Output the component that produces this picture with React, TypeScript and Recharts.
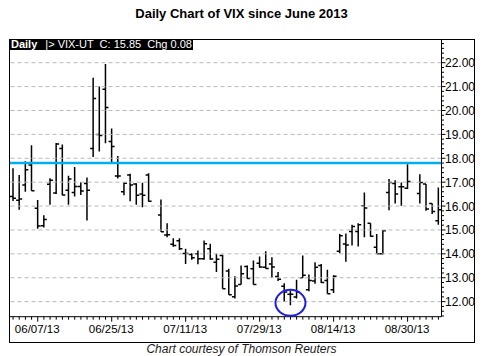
import { ComposedChart, Bar, XAxis, YAxis, ReferenceLine, ReferenceDot } from 'recharts';

// trading-day slots, holidays kept as empty slots (07/04, 09/02)
const DATES = [
  '06/03/13', '06/04/13', '06/05/13', '06/06/13', '06/07/13',
  '06/10/13', '06/11/13', '06/12/13', '06/13/13', '06/14/13',
  '06/17/13', '06/18/13', '06/19/13', '06/20/13', '06/21/13',
  '06/24/13', '06/25/13', '06/26/13', '06/27/13', '06/28/13',
  '07/01/13', '07/02/13', '07/03/13', '07/04/13', '07/05/13',
  '07/08/13', '07/09/13', '07/10/13', '07/11/13', '07/12/13',
  '07/15/13', '07/16/13', '07/17/13', '07/18/13', '07/19/13',
  '07/22/13', '07/23/13', '07/24/13', '07/25/13', '07/26/13',
  '07/29/13', '07/30/13', '07/31/13', '08/01/13', '08/02/13',
  '08/05/13', '08/06/13', '08/07/13', '08/08/13', '08/09/13',
  '08/12/13', '08/13/13', '08/14/13', '08/15/13', '08/16/13',
  '08/19/13', '08/20/13', '08/21/13', '08/22/13', '08/23/13',
  '08/26/13', '08/27/13', '08/28/13', '08/29/13', '08/30/13',
  '09/02/13', '09/03/13', '09/04/13', '09/05/13', '09/06/13',
];

const OPEN = [
  16.40, 16.24, 16.88, 17.72, 15.91,
  15.18, 16.91, 16.55, 18.41, 16.66,
  16.57, 16.82, 16.94, 18.41, 19.00,
  20.89, 18.70, 17.26, 16.60, 17.30,
  16.92, 16.50, 17.30, null, 15.63,
  14.79, 14.40, 14.55, 14.02, 13.97,
  14.00, 13.79, 14.21, 13.65, 13.93,
  13.28, 12.20, 12.72, 13.47, 13.38,
  13.61, 13.44, 13.58, 13.05, 12.64,
  12.31, 12.19, 13.00, 12.50, 12.86,
  13.51, 12.89, 12.50, 14.11, 14.41,
  14.94, 14.94, 16.01, 15.28, 14.28,
  14.00, 16.57, 16.94, 16.81, 16.75,
  null, 16.53, 16.92, 16.11, 15.39,
];

const HIGH = [
  17.58, 17.30, 17.88, 18.55, 16.25,
  15.62, 17.16, 18.64, 18.58, 17.27,
  17.63, 17.00, 17.20, 21.37, 21.00,
  21.95, 19.25, 18.10, 17.00, 17.35,
  16.95, 16.98, 17.37, null, 16.28,
  15.28, 14.65, 14.65, 14.21, 14.03,
  14.14, 14.56, 14.42, 14.00, 13.96,
  13.38, 13.06, 13.51, 13.51, 13.72,
  13.89, 14.11, 13.86, 13.24, 12.77,
  12.47, 12.92, 13.93, 13.14, 13.65,
  13.58, 13.33, 13.10, 14.83, 14.85,
  15.22, 15.28, 16.57, 15.28, 14.83,
  15.00, 17.13, 17.08, 16.99, 17.75,
  null, 17.33, 16.92, 16.11, 16.78,
];

const LOW = [
  16.21, 15.85, 16.60, 16.64, 15.05,
  15.10, 16.05, 16.50, 16.45, 16.05,
  16.40, 16.46, 15.40, 18.05, 18.28,
  18.63, 17.84, 17.15, 16.45, 16.20,
  16.05, 15.95, 16.18, null, 14.92,
  14.69, 14.30, 14.16, 13.58, 13.75,
  13.56, 13.75, 13.75, 13.24, 12.54,
  12.29, 12.13, 12.72, 12.96, 12.72,
  13.42, 13.38, 13.00, 12.86, 11.99,
  11.85, 12.13, 13.00, 12.44, 12.75,
  12.78, 12.33, 12.36, 14.03, 13.67,
  14.35, 14.31, 14.69, 14.72, 14.00,
  13.97, 15.83, 16.11, 16.01, 16.71,
  null, 16.11, 15.80, 15.67, 15.22,
];

const CLOSE = [
  16.33, 16.30, 17.52, 16.64, 15.17,
  15.44, 17.08, 18.60, 16.46, 17.13,
  16.82, 16.63, 16.66, 20.50, 18.95,
  20.13, 18.49, 17.26, 16.95, 16.88,
  16.45, 16.45, 16.20, null, 14.93,
  14.80, 14.35, 14.21, 14.01, 13.84,
  13.79, 14.42, 13.78, 13.77, 12.54,
  12.29, 12.66, 13.17, 12.97, 12.72,
  13.45, 13.39, 13.45, 12.94, 12.40,
  12.31, 12.40, 13.10, 12.89, 13.44,
  12.80, 12.33, 13.06, 14.76, 14.37,
  15.14, 15.22, 15.92, 14.74, 14.00,
  14.97, 16.99, 16.50, 16.81, 17.03,
  null, 16.99, 15.88, 15.77, 15.85,
];

const X_LABELS = ['06/07/13', '06/25/13', '07/11/13', '07/29/13', '08/14/13', '08/30/13'];
const Y_MAJOR = [12, 13, 14, 15, 16, 17, 18, 19, 20, 21, 22];
const RESISTANCE = 17.8;
const CIRCLED_DATE = '08/05/13';
const CIRCLED_VALUE = 11.95;

const W = 483;
const H = 356;

// minor price ticks every 0.2
const Y_TICKS: number[] = [];
for (let i = 114; i <= 228; i += 2) Y_TICKS.push(i / 10);

const data = DATES.map((date, i) => ({
  date,
  open: OPEN[i],
  high: HIGH[i],
  low: LOW[i],
  close: CLOSE[i],
  range: HIGH[i] == null ? null : [LOW[i], HIGH[i]],
}));

function OhlcBar(props: any) {
  const { x = 0, y = 0, width = 0, height = 0, payload } = props;
  if (!payload || payload.high == null) return null;
  const top = Math.min(y, y + height);
  const span = Math.abs(height);
  const cx = x + width / 2;
  const ppu = span / (payload.high - payload.low);
  const yOpen = top + (payload.high - payload.open) * ppu;
  const yClose = top + (payload.high - payload.close) * ppu;
  return (
    <g stroke="#000" strokeWidth={1.5}>
      <line x1={cx} x2={cx} y1={top} y2={top + span} />
      <line x1={cx - 3} x2={cx} y1={yOpen} y2={yOpen} />
      <line x1={cx} x2={cx + 3} y1={yClose} y2={yClose} />
    </g>
  );
}

function DateTick(props: any) {
  const { x, y, payload } = props;
  const labelled = X_LABELS.includes(payload.value);
  return (
    <g>
      <line x1={x} x2={x} y1={y} y2={y + (labelled ? 5 : 3)} stroke="#000" />
      {labelled && (
        <text x={x - 0.5} y={y + 16.5} textAnchor="middle" fontSize={11.5} fill="#000"
          fontFamily="'Liberation Sans', Arial, sans-serif">
          {payload.value}
        </text>
      )}
    </g>
  );
}

function PriceTick(props: any) {
  const { x, y, payload } = props;
  const major = Y_MAJOR.includes(payload.value);
  return (
    <g>
      <line x1={x} x2={x + (major ? 4 : 2.5)} y1={y} y2={y} stroke="#000" />
      {major && (
        <text x={x + 3.5} y={y + 4.5} fontSize={12} fill="#000"
          fontFamily="'Liberation Sans', Arial, sans-serif">
          {payload.value.toFixed(2)}
        </text>
      )}
    </g>
  );
}

function Ring(props: any) {
  const { cx, cy } = props;
  return <ellipse cx={cx} cy={cy} rx={15} ry={13} fill="none" stroke="#2020dc" strokeWidth={2} />;
}

export default function App() {
  return (
    <div style={{ position: 'relative', width: W, height: H, background: '#fff', fontFamily: "'Liberation Sans', Arial, sans-serif" }}>
      <style>{'body{margin:0}'}</style>
      <div style={{ position: 'absolute', top: 6, left: 0, width: W, textAlign: 'center', fontSize: 13, lineHeight: '15px', fontWeight: 700, color: '#000' }}>
        Daily Chart of VIX since June 2013
      </div>

      <div style={{ position: 'absolute', left: 0, top: 0, width: 474, height: 342, overflow: 'hidden' }}>
        <ComposedChart
          width={W}
          height={H}
          data={data}
          margin={{ top: 40, right: 7.5, left: 10, bottom: 9.3 }}
        >
          <XAxis
            dataKey="date"
            interval={0}
            height={30}
            tickSize={0}
            tickMargin={0}
            tickLine={false}
            axisLine={{ stroke: '#000' }}
            tick={<DateTick />}
          />
          <YAxis
            orientation="right"
            type="number"
            domain={[11.37, 22.95]}
            ticks={Y_TICKS}
            interval={0}
            allowDataOverflow
            width={34}
            tickSize={0}
            tickMargin={0}
            tickLine={false}
            axisLine={{ stroke: '#000' }}
            tick={<PriceTick />}
          />
          {Y_MAJOR.map(v => (
            <ReferenceLine key={v} y={v} stroke="#b9b9b9" strokeDasharray="4 3" />
          ))}
          <ReferenceLine y={RESISTANCE} stroke="#00aeef" strokeWidth={2.5} />
          <Bar dataKey="range" barSize={6} shape={<OhlcBar />} isAnimationActive={false} />
          <ReferenceDot x={CIRCLED_DATE} y={CIRCLED_VALUE} shape={<Ring />} />
        </ComposedChart>
      </div>

      <div style={{ position: 'absolute', left: 9, top: 39, width: 466, height: 304, border: '1px solid #000', boxSizing: 'border-box', pointerEvents: 'none' }} />
      <div style={{ position: 'absolute', left: 9, top: 39, width: 184, height: 11, background: '#000', color: '#fff', fontSize: 11, lineHeight: '11px', whiteSpace: 'pre', paddingLeft: 2, boxSizing: 'border-box', overflow: 'hidden' }}>
        <span style={{ fontWeight: 700 }}>Daily</span>
        <span style={{ marginLeft: 8 }}>{'|> VIX-UT  C: 15.85  Chg 0.08'}</span>
      </div>

      <div style={{ position: 'absolute', top: 342, left: 0, width: W, textAlign: 'center', fontSize: 12, lineHeight: '14px', fontStyle: 'italic', color: '#1a1a1a' }}>
        Chart courtesy of Thomson Reuters
      </div>
    </div>
  );
}
